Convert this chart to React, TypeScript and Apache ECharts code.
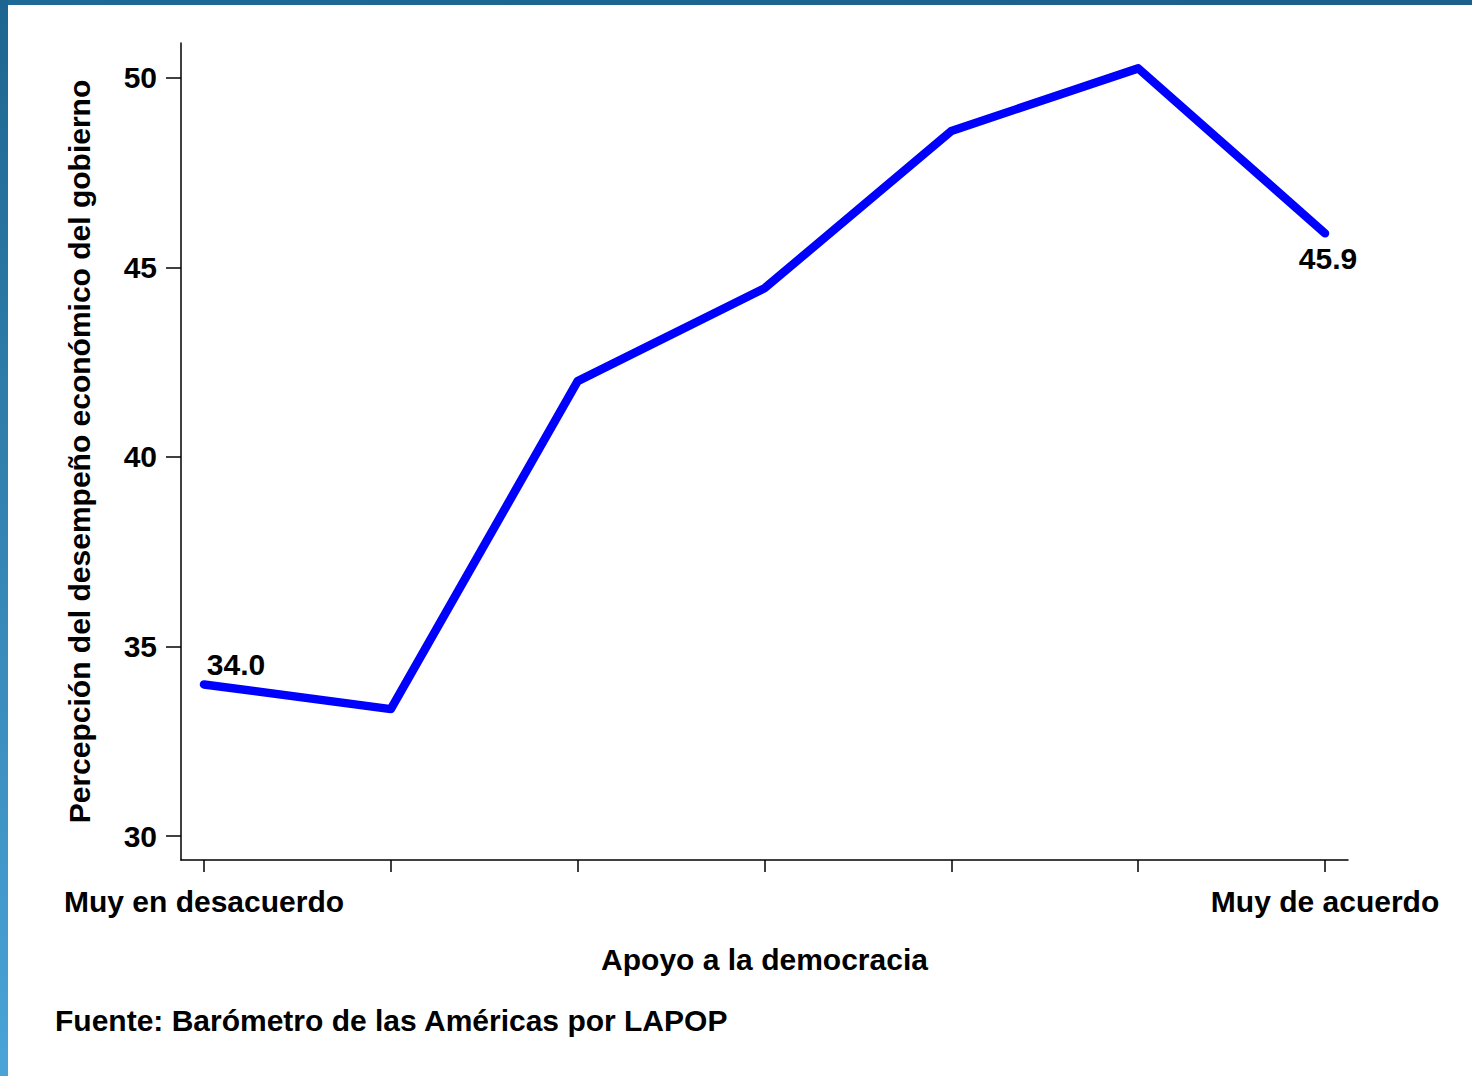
import React, { useEffect, useRef } from "react";
import * as echarts from "echarts";

const categories = ["Muy en desacuerdo", "", "", "", "", "", "Muy de acuerdo"];
const values = [34.0, 33.35, 42.0, 44.45, 48.6, 50.25, 45.9];
const yTicks = [30, 35, 40, 45, 50];
const yTitle = "Percepción del desempeño económico del gobierno";
const xTitle = "Apoyo a la democracia";
const source = "Fuente: Barómetro de las Américas por LAPOP";

const FONT = "'Liberation Sans', Arial, sans-serif";
const FS = 30;

export default function App() {
  const ref = useRef<HTMLDivElement>(null);
  useEffect(() => {
    document.body.style.margin = "0";
    const chart = echarts.init(ref.current!, null, { renderer: "svg" });
    const last = values.length - 1;
    const data = values.map((v, i) => {
      const item: any = { value: [i, v] };
      if (i === 0) {
        item.label = { show: true, position: "top", offset: [32, 0], formatter: v.toFixed(1) };
      } else if (i === last) {
        item.label = { show: true, position: "bottom", offset: [3, 5], formatter: v.toFixed(1) };
      }
      return item;
    });
    chart.setOption({
      animation: false,
      backgroundColor: "#ffffff",
      textStyle: { fontFamily: FONT },
      grid: { left: 181, right: 124, top: 43, bottom: 216, containLabel: false },
      xAxis: {
        type: "value",
        min: -0.123,
        max: 6.123,
        name: xTitle,
        nameLocation: "middle",
        nameGap: 84,
        nameTextStyle: { fontSize: FS, fontWeight: "bold", color: "#000", fontFamily: FONT },
        axisLine: { show: true, onZero: false, lineStyle: { color: "#000", width: 1.5 } },
        axisTick: {
          show: true,
          length: 12,
          customValues: categories.map((_, i) => i),
          lineStyle: { color: "#000", width: 1.5 },
        },
        axisLabel: {
          customValues: [0, last],
          formatter: (v: number) => categories[Math.round(v)],
          margin: 26,
          fontSize: FS,
          fontWeight: "bold",
          color: "#000",
          fontFamily: FONT,
        },
        splitLine: { show: false },
      },
      yAxis: {
        type: "value",
        min: 29.37,
        max: 50.92,
        name: yTitle,
        nameLocation: "middle",
        nameGap: 87,
        nameTextStyle: { fontSize: FS, fontWeight: "bold", color: "#000", fontFamily: FONT },
        axisLine: { show: true, onZero: false, lineStyle: { color: "#000", width: 1.5 } },
        axisTick: {
          show: true,
          length: 15,
          customValues: yTicks,
          lineStyle: { color: "#000", width: 1.5 },
        },
        axisLabel: {
          customValues: yTicks,
          margin: 24,
          fontSize: FS,
          fontWeight: "bold",
          color: "#000",
          fontFamily: FONT,
        },
        splitLine: { show: false },
      },
      series: [
        {
          type: "line",
          data,
          showSymbol: true,
          symbol: "circle",
          symbolSize: 0.1,
          lineStyle: { color: "#0000ff", width: 8.5, cap: "round", join: "round" },
          itemStyle: { color: "#0000ff" },
          label: { fontSize: FS, fontWeight: "bold", color: "#000", fontFamily: FONT },
        },
      ],
      graphic: [
        {
          type: "rect",
          left: 0,
          top: 0,
          shape: { width: 1472, height: 5 },
          style: {
            fill: new echarts.graphic.LinearGradient(0, 0, 1, 0, [
              { offset: 0, color: "#1d6a96" },
              { offset: 1, color: "#1c5f8c" },
            ]),
          },
        },
        {
          type: "rect",
          left: 0,
          top: 0,
          shape: { width: 8, height: 1076 },
          style: {
            fill: new echarts.graphic.LinearGradient(0, 0, 0, 1, [
              { offset: 0, color: "#1d6590" },
              { offset: 1, color: "#4aa4d7" },
            ]),
          },
        },
        {
          type: "text",
          left: 55,
          top: 1005,
          style: { text: source, fontSize: FS, fontWeight: "bold", fill: "#000", fontFamily: FONT },
        },
      ],
    });
    return () => chart.dispose();
  }, []);
  return <div ref={ref} style={{ position: "fixed", left: 0, top: 0, width: 1472, height: 1076 }} />;
}
